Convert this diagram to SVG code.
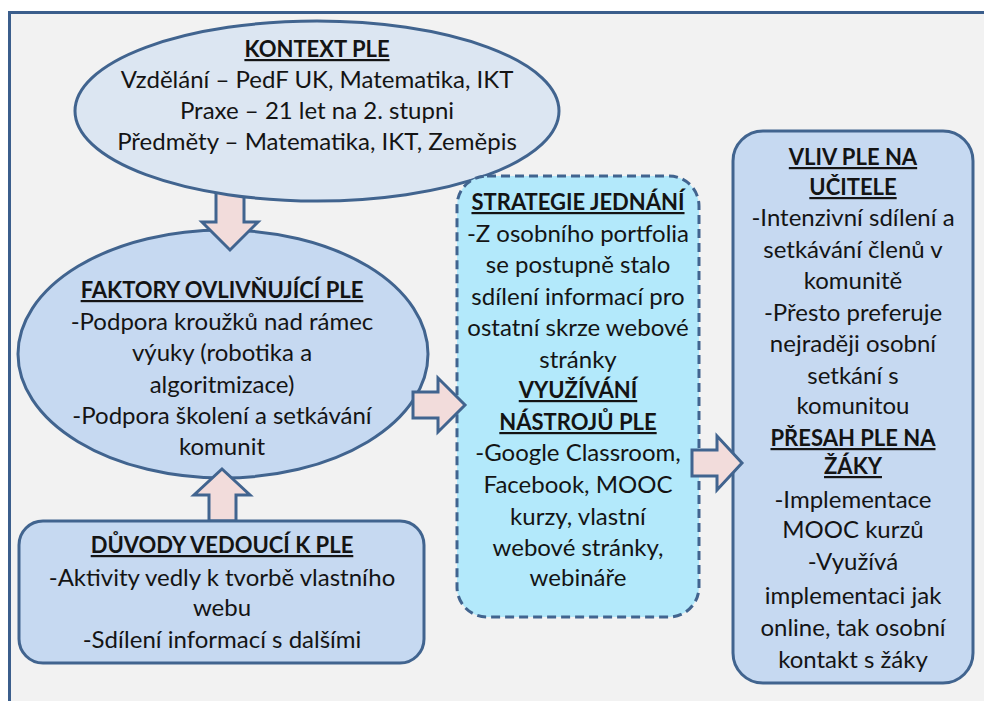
<svg xmlns="http://www.w3.org/2000/svg" width="984" height="701" viewBox="0 0 984 701">
  <style>
    .frame { fill: #f2f2f2; stroke: #3b5e8c; stroke-width: 3; }
    .node { stroke: #41648f; stroke-width: 3; }
    .pale { fill: #dce6f2; }
    .blue { fill: #c6d9f1; }
    .cyan { fill: #b3e9fb; stroke-dasharray: 9 5; }
    .arrow { fill: #f2dcdb; stroke: #41648f; stroke-width: 3; stroke-linejoin: miter; }
    text { font-family: "Lato", "Liberation Sans", sans-serif; font-size: 24px; fill: #141414; text-anchor: middle; }
    .h { font-size: 22px; font-weight: bold; text-decoration: underline; }
  </style>

  <rect class="frame" x="9.5" y="12.5" width="1000" height="720"/>

  <g id="faktory">
    <ellipse class="node blue" cx="223" cy="354" rx="205" ry="124"/>
    <text x="222" y="298" class="h">FAKTORY OVLIVŇUJÍCÍ PLE</text>
    <text x="222" y="330">-Podpora kroužků nad rámec</text>
    <text x="222" y="361">výuky (robotika a</text>
    <text x="222" y="393">algoritmizace)</text>
    <text x="222" y="424">-Podpora školení a setkávání</text>
    <text x="222" y="455">komunit</text>
  </g>

  <g id="connectors">
    <polygon class="arrow" points="216,190 244,190 244,222 258,222 230,250 202,222 216,222"/>
    <polygon class="arrow" points="222,469 250,495 236,495 236,521 209,521 209,495 194,495"/>
  </g>

  <g id="kontext">
    <ellipse class="node pale" cx="317" cy="111" rx="242" ry="90"/>
    <text x="317" y="57" class="h">KONTEXT PLE</text>
    <text x="317" y="88">Vzdělání – PedF UK, Matematika, IKT</text>
    <text x="317" y="119">Praxe – 21 let na 2. stupni</text>
    <text x="317" y="150">Předměty – Matematika, IKT, Zeměpis</text>
  </g>

  <g id="duvody">
    <rect class="node blue" x="19" y="521" width="405" height="142" rx="24"/>
    <text x="222" y="553" class="h">DŮVODY VEDOUCÍ K PLE</text>
    <text x="222" y="586">-Aktivity vedly k tvorbě vlastního</text>
    <text x="222" y="616">webu</text>
    <text x="222" y="648">-Sdílení informací s dalšími</text>
  </g>

  <g id="strategie">
    <rect class="node cyan" x="457" y="176" width="242" height="441" rx="30"/>
    <text x="578" y="210" class="h">STRATEGIE JEDNÁNÍ</text>
    <text x="578" y="242">-Z osobního portfolia</text>
    <text x="578" y="273">se postupně stalo</text>
    <text x="578" y="305">sdílení informací pro</text>
    <text x="578" y="336">ostatní skrze webové</text>
    <text x="578" y="368">stránky</text>
    <text x="578" y="398" class="h">VYUŽÍVÁNÍ</text>
    <text x="578" y="430" class="h">NÁSTROJŮ PLE</text>
    <text x="578" y="461">-Google Classroom,</text>
    <text x="578" y="493">Facebook, MOOC</text>
    <text x="578" y="525">kurzy, vlastní</text>
    <text x="578" y="556">webové stránky,</text>
    <text x="578" y="586">webináře</text>
  </g>

  <g id="vliv">
    <rect class="node blue" x="733" y="131" width="240" height="552" rx="30"/>
    <text x="853" y="165" class="h">VLIV PLE NA</text>
    <text x="853" y="195" class="h">UČITELE</text>
    <text x="853" y="226">-Intenzivní sdílení a</text>
    <text x="853" y="258">setkávání členů v</text>
    <text x="853" y="289">komunitě</text>
    <text x="853" y="321">-Přesto preferuje</text>
    <text x="853" y="352">nejraději osobní</text>
    <text x="853" y="384">setkání s</text>
    <text x="853" y="414">komunitou</text>
    <text x="853" y="446" class="h">PŘESAH PLE NA</text>
    <text x="853" y="474" class="h">ŽÁKY</text>
    <text x="853" y="508">-Implementace</text>
    <text x="853" y="538">MOOC kurzů</text>
    <text x="853" y="570">-Využívá</text>
    <text x="853" y="604">implementaci jak</text>
    <text x="853" y="636">online, tak osobní</text>
    <text x="853" y="668">kontakt s žáky</text>
  </g>

  <g id="connectors-right">
    <polygon class="arrow" points="413,392 438,392 438,378 465,405 438,432 438,418 413,418"/>
    <polygon class="arrow" points="692,450 717,450 717,436 742,463 717,490 717,476 692,476"/>
  </g>
</svg>
